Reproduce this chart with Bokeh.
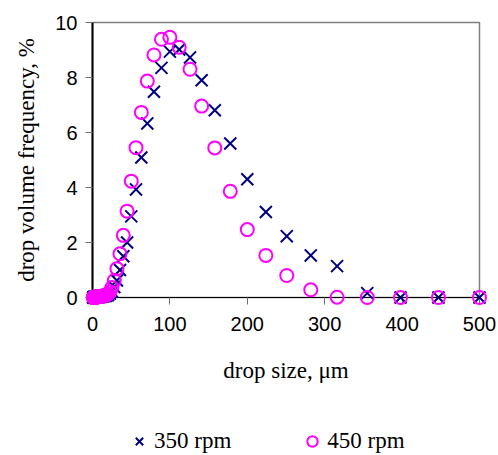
from bokeh.plotting import figure
from bokeh.models import ColumnDataSource, Legend, LegendItem, FixedTicker, Range1d
from bokeh.layouts import column
from bokeh.embed import file_html
from bokeh.resources import INLINE

# drop size classes (micrometres)
drop_size = [500, 447, 398, 355, 316, 282, 251, 224, 200, 178, 158, 141, 126, 112, 100,
             89.1, 79.4, 70.8, 63.1, 56.2, 50.1, 44.7, 39.8, 35.5, 31.6, 28.2, 25.1, 22.4, 20.0,
             17.8, 15.8, 14.1, 12.6, 11.2, 10.0, 8.91, 7.94, 7.08, 6.31, 5.62, 5.01, 4.47, 3.98,
             3.55, 3.16, 2.82, 2.51, 2.24, 2.0, 1.78, 1.58, 1.41, 1.26, 1.12, 1.0]

freq_350 = [0, 0, 0, 0.16, 1.14, 1.53, 2.23, 3.11, 4.30, 5.60, 6.81, 7.90, 8.73, 9.02, 8.94,
            8.35, 7.48, 6.33, 5.09, 3.93, 2.95, 2.00, 1.50, 1.00, 0.62, 0.38, 0.22, 0.14, 0.09,
            0.06, 0.05, 0.04, 0.04, 0.03, 0.03, 0.03, 0.02, 0.02, 0.02, 0.02, 0.02, 0.01, 0.01,
            0.01, 0.01, 0.01, 0.01, 0.01, 0.01, 0.01, 0.0, 0.0, 0.0, 0.0, 0.0]

freq_450 = [0, 0, 0, 0, 0.01, 0.28, 0.80, 1.53, 2.47, 3.86, 5.44, 6.96, 8.30, 9.10, 9.46,
            9.39, 8.82, 7.87, 6.73, 5.45, 4.23, 3.14, 2.26, 1.59, 1.05, 0.62, 0.36, 0.21, 0.13,
            0.09, 0.07, 0.06, 0.05, 0.05, 0.04, 0.04, 0.03, 0.03, 0.03, 0.02, 0.02, 0.02, 0.02,
            0.01, 0.01, 0.01, 0.01, 0.01, 0.01, 0.01, 0.01, 0.0, 0.0, 0.0, 0.0]

series_labels = ["350 rpm", "450 rpm"]
x_ticks = [0, 100, 200, 300, 400, 500]
y_ticks = [0, 2, 4, 6, 8, 10]

SERIF = "Liberation Serif"
SANS = "Liberation Sans"
NAVY = "#000080"
MAGENTA = "#FF00FF"

src = ColumnDataSource(dict(x=drop_size, a=freq_350, b=freq_450))

p = figure(width=498, height=410,
           x_range=Range1d(x_ticks[0], x_ticks[-1]),
           y_range=Range1d(y_ticks[0], y_ticks[-1]),
           output_backend="svg", toolbar_location=None,
           min_border_left=92, min_border_right=19, min_border_top=22, min_border_bottom=113)

p.grid.visible = False
p.outline_line_color = "#808080"
p.outline_line_width = 1.5
p.background_fill_color = "white"
p.border_fill_color = "white"

for ax, ticks in ((p.xaxis[0], x_ticks), (p.yaxis[0], y_ticks)):
    ax.ticker = FixedTicker(ticks=ticks)
    ax.axis_line_color = "black"
    ax.major_tick_line_color = "#707070"
    ax.major_tick_line_width = 1
    ax.major_tick_in = 0
    ax.major_tick_out = 7
    ax.minor_tick_line_color = None
    ax.major_label_text_font = SANS
    ax.major_label_text_font_size = "20px"
    ax.major_label_text_color = "black"
    ax.axis_label_text_font = SERIF
    ax.axis_label_text_font_size = "23px"
    ax.axis_label_text_font_style = "normal"
    ax.axis_label_text_color = "black"

p.xaxis.axis_label = "drop size, μm"
p.yaxis.axis_label = "drop volume frequency, %"
p.yaxis.axis_line_width = 2
p.xaxis.axis_line_width = 1
p.xaxis.major_label_standoff = 12
p.yaxis.major_label_standoff = 8
p.xaxis.axis_label_standoff = 24
p.yaxis.axis_label_standoff = 13

p.scatter("x", "a", source=src, marker="x", size=17, line_color=NAVY,
          line_width=2, level="overlay")
p.scatter("x", "b", source=src, marker="circle", size=13, line_color=MAGENTA,
          line_width=2, fill_color=None, level="overlay")

# legend strip below the chart (its frame is aligned with the chart frame)
lf = figure(width=498, height=45, output_backend="svg", toolbar_location=None,
            x_axis_type=None, y_axis_type=None, min_border=0,
            x_range=Range1d(0, 1), y_range=Range1d(0, 1))
lf.grid.visible = False
lf.outline_line_color = None
lf.border_fill_color = "white"
offscreen = ColumnDataSource(dict(x=[-10], y=[-10]))
k1 = lf.scatter("x", "y", source=offscreen, marker="x", size=22, line_color=NAVY, line_width=2)
k2 = lf.scatter("x", "y", source=offscreen, marker="circle", size=13, line_color=MAGENTA,
                line_width=2, fill_color=None)

legend = Legend(items=[LegendItem(label=series_labels[0], renderers=[k1]),
                       LegendItem(label=series_labels[1], renderers=[k2])],
                orientation="horizontal", location=(32, 1))
legend.border_line_color = None
legend.background_fill_color = None
legend.label_text_font = SERIF
legend.label_text_font_size = "23px"
legend.label_text_color = "black"
legend.glyph_width = 30
legend.glyph_height = 26
legend.label_standoff = 0
legend.spacing = 66
legend.padding = 0
legend.margin = 0
lf.add_layout(legend, "center")

layout = column(p, lf, spacing=0)
open("out.html", "w").write(file_html(layout, INLINE))
